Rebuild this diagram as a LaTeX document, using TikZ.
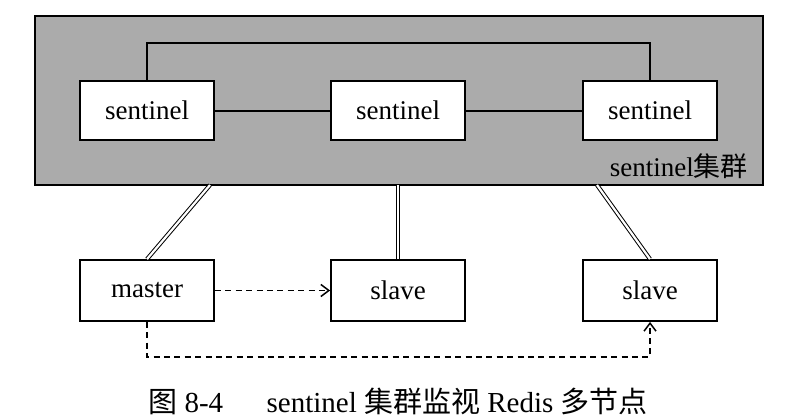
\documentclass[tikz,border=0pt]{standalone}
\usepackage{fontspec}
\setmainfont{Liberation Serif}
\newfontfamily\cjk{Noto Sans CJK SC}
\usepackage{tikz}
\usetikzlibrary{arrows.meta,positioning}

\begin{document}
\begin{tikzpicture}[x=0.5pt,y=-0.5pt]
\tikzset{bx/.style={draw,line width=0.9pt,fill=white,minimum width=67pt,inner sep=0pt,font=\fontsize{13.5}{15}\selectfont}}
\tikzset{dbl/.style={double,double distance=1.1pt,line width=0.5pt}}
\tikzset{dsh/.style={dash pattern=on 3pt off 2.2pt,line width=0.75pt}}

\useasboundingbox (0,0) rectangle (806,418);
\node [draw,line width=0.9pt,fill=black!33,minimum width=364pt,minimum height=84.5pt,inner sep=0pt] (C) at (399,100.5) {};
\node [anchor=east,font=\fontsize{13.5}{15}\selectfont] (lbl) at (755,166) {sentinel{\cjk 集群}};

\begin{scope}[every node/.style={bx,minimum height=29.5pt}]
\node (s1) at (147,110.5) {sentinel};
\node (s2) at (398,110.5) {sentinel};
\node (s3) at (650,110.5) {sentinel};
\end{scope}
\begin{scope}[every node/.style={bx,minimum height=30.5pt}]
\node (m) at (147,290.5) {master};
\node (v1) at (398,290.5) {slave};
\node (v2) at (650,290.5) {slave};
\end{scope}

\coordinate (t) at (650,43);
\coordinate (a1) at (210,185);
\coordinate (a2) at (398,185);
\coordinate (a3) at (597,185);
\coordinate (b) at (400,357);

\begin{scope}[every edge/.style={draw,line width=1pt}]
\path (s1) edge (s2);
\path (s2) edge (s3);
\end{scope}
\draw [line width=1pt] (s1.north) |- (t) -- (s3.north);

\path (m.north) edge[dbl] (a1);
\path (v1.north) edge[dbl] (a2);
\path (v2.north) edge[dbl] (a3);

\begin{scope}[>={Straight Barb[length=4pt,width=6pt]}]
\draw [dsh,->] (m) -- (v1);
\draw [dsh,->] (m.south) |- (b) -| (v2.south);
\end{scope}

\node [font=\fontsize{14.5}{16}\selectfont] (cap) at (398,401) {{\cjk 图} 8-4\hspace{1.5em}sentinel {\cjk 集群监视} Redis {\cjk 多节点}};
\end{tikzpicture}
\end{document}
